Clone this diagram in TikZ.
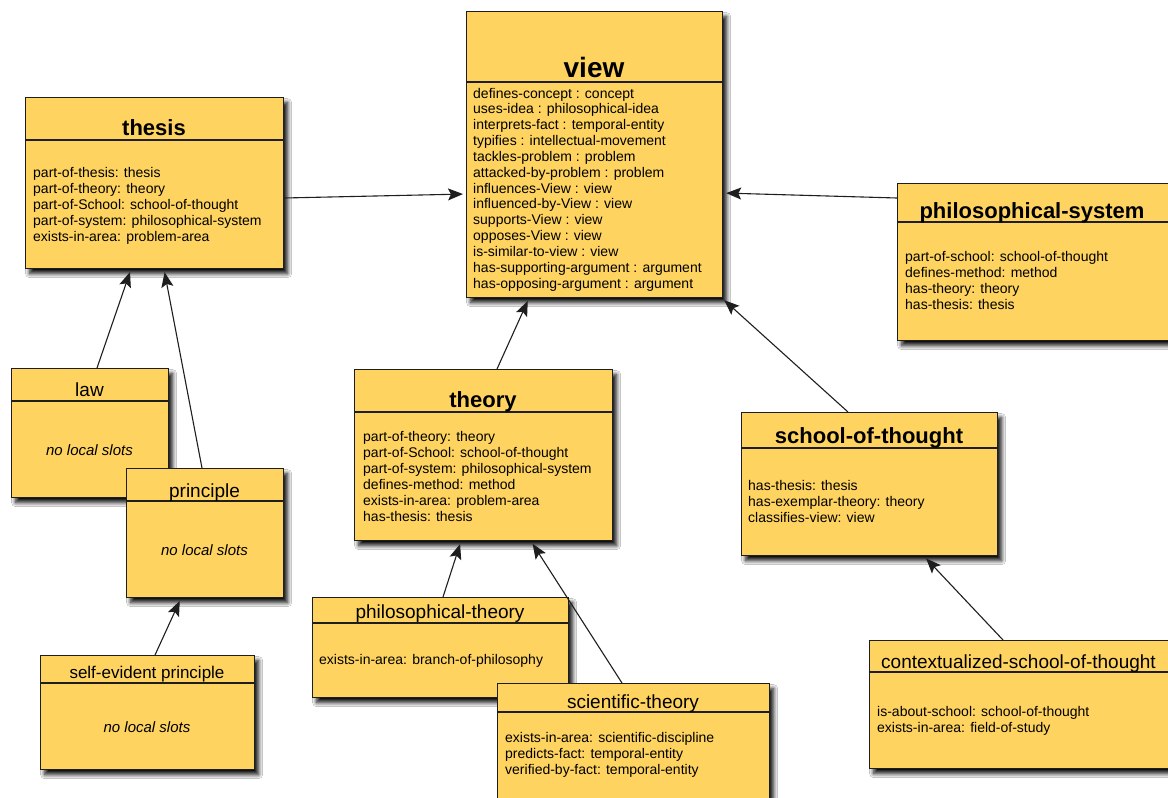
\documentclass[tikz,border=0pt]{standalone}
\usepackage{fontspec}
\setmainfont{Liberation Sans}
\usetikzlibrary{arrows.meta,shadows.blur}
\definecolor{boxfill}{RGB}{254,211,95}
\definecolor{boxline}{RGB}{30,30,30}
\tikzset{
  classbox/.style={draw=boxline, line width=1.2pt, fill=boxfill, anchor=north west, inner sep=0pt,
    blur shadow={shadow xshift=4pt, shadow yshift=-5pt, shadow blur steps=10, shadow blur radius=4pt, shadow opacity=95}},
  divider/.style={draw=boxline, line width=1.2pt},
  bigtitle/.style={font=\fontsize{28}{30}\selectfont\bfseries, anchor=base, inner sep=0pt},
  btitle/.style={font=\fontsize{22}{24}\selectfont\bfseries, anchor=base, inner sep=0pt},
  rtitle/.style={font=\fontsize{19}{21}\selectfont, anchor=base, inner sep=0pt},
  stitle/.style={font=\fontsize{17}{19}\selectfont, anchor=base, inner sep=0pt},
  slot/.style={font=\fontsize{14}{16}\selectfont, anchor=base west, inner sep=0pt},
  noslot/.style={font=\fontsize{15}{17}\selectfont\itshape, anchor=base, inner sep=0pt},
  arr/.style={draw=boxline, line width=1.1pt, shorten >=3pt, -{Stealth[length=15pt,width=12pt,inset=3pt]}},
}
% name, x1, y1, x2, y2, ydivider
\newcommand\umlbox[6]{%
  \node[classbox, minimum width={(#4-#2)*1pt}, minimum height={(#5-#3)*1pt}] (#1) at (#2,#3) {};
  \draw[divider] (#1.west |- 0,#6) -- (#1.east |- 0,#6);
}
\begin{document}
\begin{tikzpicture}[x=1pt,y=-1pt]
\path[use as bounding box, fill=white] (0,0) rectangle (1168,798);
\clip (0,0) rectangle (1168,798);

% view
\umlbox{view}{466}{11}{722}{297}{82}
\node[bigtitle] (view-t) at (594,77) {view};
\foreach \t [count=\i from 0] in {defines-concept : concept, uses-idea : philosophical-idea,
  interprets-fact : temporal-entity, typifies : intellectual-movement, tackles-problem : problem,
  attacked-by-problem : problem, influences-View : view, influenced-by-View : view,
  supports-View : view, opposes-View : view, is-similar-to-view : view,
  has-supporting-argument : argument, has-opposing-argument : argument}
  \node[slot] (view-s\i) at (473,{98+15.85*\i}) {\t};

% thesis
\umlbox{thesis}{25}{97}{283}{268}{140}
\node[btitle] (thesis-t) at (154,135) {thesis};
\foreach \t [count=\i from 0] in {part-of-thesis: thesis, part-of-theory: theory,
  part-of-School: school-of-thought, part-of-system: philosophical-system, exists-in-area: problem-area}
  \node[slot] (thesis-s\i) at (33,{177+16*\i}) {\t};

% philosophical-system
\umlbox{psys}{897}{183}{1171}{340}{222}
\node[btitle] (psys-t) at (1032,218) {philosophical-system};
\foreach \t [count=\i from 0] in {part-of-school: school-of-thought, defines-method: method,
  has-theory: theory, has-thesis: thesis}
  \node[slot] (psys-s\i) at (905,{261+16*\i}) {\t};

% law
\umlbox{law}{11}{368}{168}{497}{401}
\node[rtitle] (law-t) at (89.5,396) {law};
\node[noslot] (law-n) at (89.5,455) {no local slots};

% principle
\umlbox{principle}{126}{468}{283}{597}{501}
\node[rtitle] (principle-t) at (204.5,497) {principle};
\node[noslot] (principle-n) at (204.5,555) {no local slots};

% self-evident principle
\umlbox{sep}{40}{655}{254}{769}{683}
\node[stitle] (sep-t) at (147,678) {self-evident principle};
\node[noslot] (sep-n) at (147,732) {no local slots};

% theory
\umlbox{theory}{354}{369}{612}{540}{412}
\node[btitle] (theory-t) at (483,407) {theory};
\foreach \t [count=\i from 0] in {part-of-theory: theory, part-of-School: school-of-thought,
  part-of-system: philosophical-system, defines-method: method, exists-in-area: problem-area,
  has-thesis: thesis}
  \node[slot] (theory-s\i) at (363,{441+16*\i}) {\t};

% school-of-thought
\umlbox{sot}{741}{412}{997}{555}{448}
\node[btitle] (sot-t) at (869,443) {school-of-thought};
\foreach \t [count=\i from 0] in {has-thesis: thesis, has-exemplar-theory: theory, classifies-view: view}
  \node[slot] (sot-s\i) at (748,{490+16*\i}) {\t};

% philosophical-theory
\umlbox{ptheory}{312}{597}{568}{697}{623}
\node[rtitle] (ptheory-t) at (440,618) {philosophical-theory};
\node[slot] (ptheory-s0) at (319,664) {exists-in-area: branch-of-philosophy};

% scientific-theory
\umlbox{stheory}{497}{683}{769}{812}{712}
\node[rtitle] (stheory-t) at (633,708) {scientific-theory};
\foreach \t [count=\i from 0] in {exists-in-area: scientific-discipline, predicts-fact: temporal-entity,
  verified-by-fact: temporal-entity}
  \node[slot] (stheory-s\i) at (505,{742+16*\i}) {\t};

% contextualized-school-of-thought
\umlbox{cst}{869}{640}{1171}{768}{672}
\node[rtitle] (cst-t) at (1018.5,668) {contextualized-school-of-thought};
\foreach \t [count=\i from 0] in {is-about-school: school-of-thought, exists-in-area: field-of-study}
  \node[slot] (cst-s\i) at (877,{716+16*\i}) {\t};

% connectors
\draw[arr] (thesis.east |- 0,198) -- (view.west |- 0,194);
\draw[arr] (psys.west |- 0,198) -- (view.east |- 0,193);
\draw[arr] (theory.north -| 497,0) -- (view.south -| 529,0);
\draw[arr] (sot.north -| 848,0) -- (view.south -| 722,0);
\draw[arr] (law.north -| 97,0) -- (thesis.south -| 131,0);
\draw[arr] (principle.north -| 202,0) -- (thesis.south -| 164,0);
\draw[arr] (sep.north -| 155,0) -- (principle.south -| 181,0);
\draw[arr] (ptheory.north -| 443,0) -- (theory.south -| 461,0);
\draw[arr] (stheory.north -| 622,0) -- (theory.south -| 531,0);
\draw[arr] (cst.north -| 1003,0) -- (sot.south -| 924,0);
\end{tikzpicture}
\end{document}
